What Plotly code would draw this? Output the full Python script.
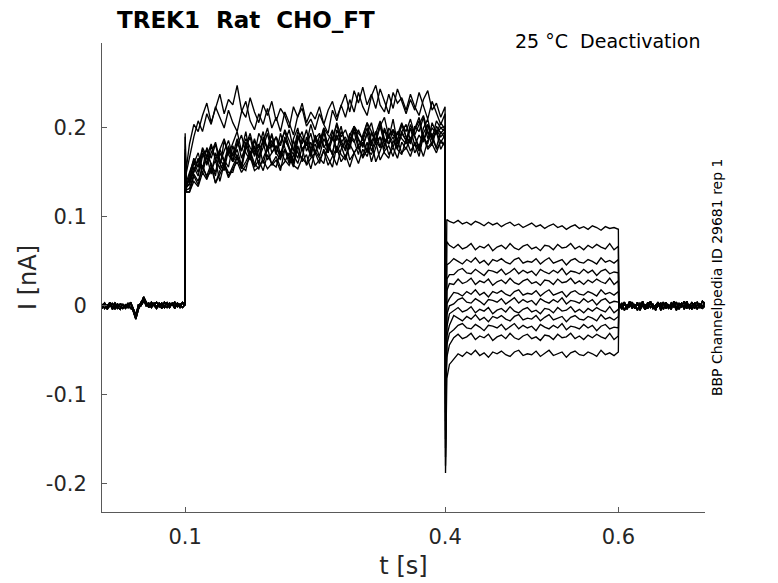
import numpy as np
import plotly.graph_objects as go

# sampling clocks of the four protocol segments (s)
t_pre = list(np.round(np.arange(0.004, 0.0971, 0.003), 4)) + [0.0995]
t_act = [0.1, 0.101] + list(np.round(np.arange(0.105, 0.40001, 0.005), 4))
t_deact = [0.4005, 0.402] + list(np.round(np.arange(0.405, 0.60001, 0.005), 4))
t_post = [0.6005] + list(np.round(np.arange(0.604, 0.7001, 0.003), 4))

# holding current before the step (pA), three sweep groups
pre_a = [-3, 2, -4, 1, -2, 3, -1, -4, 2, -3, 0, 3, -6, -15, -4, 2, 10, 3, -2, 4, 0, -3, 3, 1, -2, 4, -1, 2, -3, 3,
         0, -2, 1]
pre_b = [2, -3, 1, -1, 3, -4, 2, 0, -3, 1, -2, 4, -3, -10, -2, 4, 7, 0, 3, -2, 2, 4, -1, 3, 0, -2, 3, 1, 4, -1,
         2, 3, 0]
pre_c = [-1, 3, -2, 4, -4, 0, -3, 2, 1, -2, 3, -3, -4, -12, 1, 0, 5, 4, -1, 1, 3, -1, 2, -3, 4, 1, -2, 3, 0, 2,
         -2, 4, 2]

# holding current after the test pulse (pA)
post_a = [3, -4, 2, -2, 5, -3, 1, -5, 3, 0, -4, 4, -2, 2, -5, 3, -1, 4, -3, 1, -4, 5, -2, 0, 3, -4, 2, -1, 4, -3,
          1, -2, 5, 2]
post_b = [-2, 3, -5, 1, -1, 4, -3, 2, -2, 5, -4, 0, 3, -3, 1, 4, -5, 2, 0, -3, 3, -1, 4, -4, 2, -2, 5, -3, 0, 3,
          -4, 2, -1, 4]
post_c = [1, -1, 4, -4, 2, 0, -2, 4, -5, 2, 1, -3, 5, -1, -3, 0, 3, -4, 4, -2, 0, 2, -5, 3, -1, 5, -3, 1, -4, 2,
          4, -1, -3, 0]

# activating step 0.1-0.4 s (pA), one list per sweep
act_1 = [190, 152,
         182, 204, 196, 214, 228, 206, 222, 238, 216, 232, 226, 248, 220, 212, 234, 218, 206, 226, 214, 230,
         208, 222, 214, 200, 224, 212, 228, 206, 218, 210, 224, 204, 220, 230, 212, 226, 238, 218, 242, 228,
         246, 226, 238, 222, 244, 230, 216, 240, 228, 234, 220, 238, 224, 214, 232, 242, 220, 228, 212, 224]
act_2 = [176, 148,
         168, 190, 208, 196, 216, 204, 224, 212, 200, 220, 206, 196, 218, 230, 208, 198, 216, 204, 222, 200,
         212, 196, 218, 206, 192, 214, 222, 202, 210, 198, 216, 204, 194, 220, 208, 226, 212, 232, 218, 240,
         224, 214, 236, 248, 226, 218, 238, 222, 244, 230, 216, 232, 220, 240, 226, 210, 230, 218, 204, 216]
act_3 = [194, 138,
         140, 162, 150, 172, 158, 180, 166, 154, 186, 170, 162, 184, 174, 196, 168, 180, 158, 190, 176, 186,
         170, 194, 178, 164, 188, 200, 174, 184, 168, 192, 180, 198, 172, 188, 204, 182, 176, 194, 186, 170,
         192, 206, 184, 196, 178, 200, 188, 210, 182, 196, 204, 186, 198, 212, 190, 182, 206, 194, 200, 196]
act_4 = [168, 134,
         136, 152, 166, 148, 170, 160, 146, 176, 164, 156, 180, 166, 154, 178, 190, 168, 182, 160, 176, 194,
         172, 164, 186, 178, 160, 192, 176, 184, 168, 190, 176, 194, 182, 170, 198, 186, 174, 192, 202, 180,
         188, 174, 196, 184, 206, 180, 192, 198, 178, 194, 186, 204, 190, 178, 200, 210, 188, 196, 184, 192]
act_5 = [156, 128,
         128, 146, 136, 158, 144, 152, 164, 140, 160, 150, 150, 168, 156, 152, 174, 160, 154, 166, 178, 158,
         164, 152, 176, 168, 156, 180, 162, 170, 154, 174, 166, 160, 182, 170, 158, 176, 186, 164, 172, 180,
         168, 184, 162, 178, 190, 172, 166, 186, 176, 170, 188, 174, 182, 168, 192, 178, 184, 196, 176, 186]
act_6 = [162, 136,
         144, 160, 172, 154, 178, 166, 182, 160, 174, 186, 168, 180, 192, 172, 164, 186, 178, 196, 174, 182,
         190, 170, 184, 198, 176, 166, 188, 180, 194, 172, 184, 200, 178, 190, 174, 196, 186, 180, 202, 188,
         178, 194, 206, 184, 190, 176, 200, 192, 186, 204, 190, 182, 198, 208, 186, 196, 180, 202, 194, 200]
act_7 = [150, 132,
         138, 156, 146, 168, 176, 158, 150, 172, 162, 180, 164, 176, 158, 184, 170, 188, 166, 178, 194, 172,
         180, 168, 190, 176, 162, 186, 196, 174, 184, 170, 192, 178, 186, 198, 172, 184, 190, 176, 200, 186,
         180, 194, 174, 188, 202, 184, 192, 178, 196, 188, 182, 200, 190, 176, 194, 204, 186, 198, 190, 196]
act_8 = [158, 130,
         132, 148, 140, 156, 146, 160, 138, 152, 162, 146, 158, 168, 154, 162, 172, 156, 164, 152, 170, 160,
         156, 174, 164, 158, 170, 160, 178, 158, 166, 172, 160, 176, 166, 156, 180, 170, 164, 182, 172, 160,
         176, 168, 184, 162, 174, 188, 170, 178, 166, 184, 176, 190, 172, 182, 168, 186, 194, 176, 184, 180]
act_9 = [172, 138,
         150, 164, 156, 176, 160, 172, 184, 164, 158, 178, 170, 188, 166, 180, 194, 174, 168, 186, 178, 192,
         172, 184, 196, 178, 170, 190, 182, 198, 176, 188, 194, 180, 172, 196, 186, 202, 178, 190, 184, 198,
         186, 200, 180, 194, 208, 188, 182, 198, 192, 206, 190, 184, 202, 196, 212, 188, 200, 194, 206, 198]
act_10 = [160, 134,
          142, 150, 164, 154, 168, 148, 172, 160, 152, 176, 162, 170, 156, 180, 166, 158, 176, 184, 164, 172,
          180, 166, 176, 160, 186, 172, 166, 190, 174, 182, 168, 188, 178, 172, 192, 180, 166, 186, 196, 176,
          184, 172, 194, 186, 178, 198, 182, 190, 176, 196, 186, 200, 180, 192, 184, 204, 188, 178, 196, 188]
act_11 = [166, 132,
          148, 166, 156, 178, 168, 182, 164, 176, 188, 170, 184, 196, 174, 188, 178, 170, 194, 184, 200, 178,
          190, 180, 198, 186, 174, 196, 188, 182, 204, 186, 178, 200, 192, 186, 206, 190, 198, 184, 202, 194,
          188, 206, 196, 184, 202, 212, 190, 198, 186, 204, 196, 210, 192, 204, 214, 196, 188, 208, 200, 202]
act_12 = [154, 128,
          128, 140, 134, 150, 142, 156, 138, 148, 158, 144, 154, 162, 150, 158, 168, 152, 156, 164, 154, 160,
          168, 156, 162, 172, 158, 154, 166, 160, 174, 158, 164, 174, 158, 168, 178, 162, 170, 156, 172, 180,
          166, 176, 170, 184, 164, 174, 180, 168, 186, 172, 178, 168, 184, 174, 190, 176, 182, 172, 186, 180]

# deactivation tails 0.4-0.6 s (pA)
deact_1 = [-60, 97, 95, 93, 96, 92, 94, 91, 95, 93, 90, 94, 91, 93, 89, 92, 94, 90, 92, 88, 91, 93, 89, 91, 87, 90,
           92, 88, 90, 86, 89, 91, 87, 89, 86, 90, 88, 85, 89, 87, 88, 86]
deact_2 = [-110, 72, 68, 65, 69, 64, 66, 70, 63, 67, 65, 69, 62, 66, 68, 64, 70, 65, 63, 67, 69, 64, 66, 62, 68,
           67, 63, 69, 65, 66, 70, 64, 67, 63, 68, 65, 69, 66, 64, 70, 63, 67]
deact_3 = [-130, 46, 48, 53, 50, 47, 52, 49, 54, 48, 51, 46, 52, 50, 53, 49, 47, 52, 54, 48, 50, 49, 53, 47, 51,
           54, 48, 50, 52, 46, 51, 53, 49, 48, 52, 50, 47, 54, 49, 51, 48, 52]
deact_4 = [-150, 30, 35, 35, 40, 42, 37, 36, 41, 38, 34, 40, 39, 37, 41, 35, 38, 42, 36, 40, 37, 39, 34, 41, 38,
           36, 40, 37, 42, 35, 39, 38, 36, 41, 37, 40, 34, 39, 41, 36, 38, 37]
deact_5 = [-100, 17, 25, 24, 30, 25, 27, 31, 24, 28, 26, 30, 23, 27, 29, 25, 31, 26, 24, 28, 30, 25, 27, 23, 29,
           28, 24, 30, 26, 27, 31, 25, 28, 24, 29, 26, 30, 27, 25, 31, 24, 28]
deact_6 = [-160, 2, 8, 15, 14, 11, 16, 13, 18, 12, 15, 10, 16, 14, 17, 13, 11, 16, 18, 12, 14, 13, 17, 11, 15,
           18, 12, 14, 16, 10, 15, 17, 13, 12, 16, 14, 11, 18, 13, 15, 12, 16]
deact_7 = [-140, -10, 0, 2, 7, 9, 4, 3, 8, 5, 1, 7, 6, 4, 8, 2, 5, 9, 3, 7, 4, 6, 1, 8, 5, 3, 7, 4, 9, 2, 6, 5,
           3, 8, 4, 7, 1, 6, 8, 3, 5, 4]
deact_8 = [-170, -24, -9, -6, -2, -7, -5, -1, -8, -4, -6, -2, -9, -5, -3, -7, -1, -6, -8, -4, -2, -7, -5, -9, -3,
           -4, -8, -2, -6, -5, -1, -7, -4, -8, -3, -6, -2, -5, -7, -1, -8, -4]
deact_9 = [-120, -34, -22, -11, -14, -17, -12, -15, -10, -16, -13, -18, -12, -14, -11, -15, -17, -12, -10, -16,
           -14, -15, -11, -17, -13, -10, -16, -14, -12, -18, -13, -11, -15, -16, -12, -14, -17, -10, -15, -13,
           -16, -12]
deact_10 = [-180, -44, -31, -27, -22, -20, -25, -26, -21, -24, -28, -22, -23, -25, -21, -27, -24, -20, -26, -22,
            -25, -23, -28, -21, -24, -26, -22, -25, -20, -27, -23, -24, -26, -21, -25, -22, -28, -23, -21, -26,
            -24, -25]
deact_11 = [-90, -58, -44, -36, -32, -37, -35, -31, -38, -34, -36, -32, -39, -35, -33, -37, -31, -36, -38, -34,
            -32, -37, -35, -39, -33, -34, -38, -32, -36, -35, -31, -37, -34, -38, -33, -36, -32, -35, -37, -31,
            -38, -34]
deact_12 = [-188, -82, -66, -60, -54, -57, -52, -55, -50, -56, -53, -58, -52, -54, -51, -55, -57, -52, -50, -56,
            -54, -55, -51, -57, -53, -50, -56, -54, -52, -58, -53, -51, -55, -56, -52, -54, -57, -50, -55, -53,
            -56, -52]

pre_sets = [pre_a, pre_b, pre_c]
post_sets = [post_a, post_b, post_c]
act_sets = [act_1, act_2, act_3, act_4, act_5, act_6, act_7, act_8, act_9, act_10, act_11, act_12]
deact_sets = [deact_1, deact_2, deact_3, deact_4, deact_5, deact_6, deact_7, deact_8, deact_9, deact_10,
              deact_11, deact_12]

x_ticks = [0.1, 0.4, 0.6]
y_ticks = [-0.2, -0.1, 0, 0.1, 0.2]
y_tick_text = ["-0.2", "-0.1", "0", "0.1", "0.2"]

FONT = "DejaVu Sans"
t_all = t_pre + t_act + t_deact + t_post

fig = go.Figure()
for i, (act, deact) in enumerate(zip(act_sets, deact_sets)):
    current_pA = pre_sets[i % 3] + act + deact + post_sets[i % 3]
    assert len(current_pA) == len(t_all), (i, len(current_pA), len(t_all))
    fig.add_trace(
        go.Scatter(
            x=t_all,
            y=[v / 1000 for v in current_pA],
            mode="lines",
            line={"color": "black", "width": 1.35},
            showlegend=False,
            hoverinfo="skip",
        )
    )

axis_common = dict(
    showgrid=False,
    zeroline=False,
    showline=True,
    linecolor="#595959",
    linewidth=1,
    ticks="inside",
    ticklen=5,
    tickcolor="#595959",
    tickfont={"family": FONT, "size": 21, "color": "#262626"},
    mirror=False,
)

# the page body adds an 8 px offset, margins account for it
fig.update_layout(
    width=778,
    height=583,
    margin={"l": 94, "r": 81, "t": 35, "b": 79},
    paper_bgcolor="white",
    plot_bgcolor="white",
    font={"family": FONT, "color": "black"},
    xaxis=dict(
        axis_common,
        range=[0.004, 0.7],
        tickvals=x_ticks,
        ticktext=[f"{v:g}" for v in x_ticks],
        ticklabelstandoff=6,
        title={"text": "t [s]", "font": {"family": FONT, "size": 24, "color": "#262626"}, "standoff": 8},
    ),
    yaxis=dict(
        axis_common,
        range=[-0.232, 0.2956],
        tickvals=y_ticks,
        ticktext=y_tick_text,
        ticklabelstandoff=10,
        title={"text": "I [nA]", "font": {"family": FONT, "size": 24, "color": "#262626"}, "standoff": 2},
    ),
    annotations=[
        dict(
            text="<b>TREK1\u00a0\u00a0Rat\u00a0\u00a0CHO_FT</b>",
            xref="paper", yref="paper", x=0.0216, y=1.05,
            xanchor="left", yanchor="middle", showarrow=False,
            font={"family": FONT, "size": 23, "color": "black"},
        ),
        dict(
            text="25 °C\u00a0\u00a0Deactivation",
            xref="paper", yref="paper", x=0.995, y=1.004,
            xanchor="right", yanchor="middle", showarrow=False,
            font={"family": FONT, "size": 19, "color": "black"},
        ),
        dict(
            text="BBP Channelpedia ID 29681 rep 1",
            xref="paper", yref="paper", x=1.02, y=0.501,
            xanchor="center", yanchor="middle", showarrow=False, textangle=-90,
            font={"family": FONT, "size": 14, "color": "black"},
        ),
    ],
)

fig.write_html("out.html")
